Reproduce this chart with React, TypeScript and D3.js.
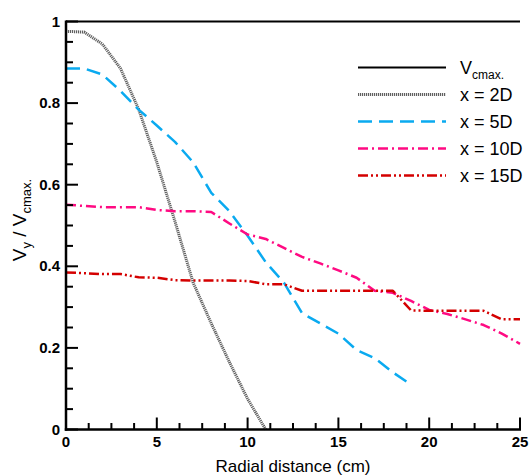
import React from 'react';
import * as d3 from 'd3';

// radial distance samples (cm)
const xs2D = [0, 1, 2, 3, 4, 5, 6, 7, 8, 9, 10, 11];
const ys2D = [0.976, 0.974, 0.945, 0.885, 0.785, 0.655, 0.51, 0.36, 0.26, 0.165, 0.075, 0];

const xs5D = [0, 1, 2, 3, 4, 5, 6, 7, 8, 9, 10, 11, 12, 13, 14, 15, 16, 17, 18, 19];
const ys5D = [0.885, 0.885, 0.87, 0.83, 0.784, 0.745, 0.705, 0.655, 0.58, 0.535, 0.475, 0.41, 0.36, 0.285, 0.26, 0.235, 0.195, 0.175, 0.14, 0.11];

const xs10D = [0, 1, 2, 3, 4, 5, 6, 7, 8, 9, 10, 11, 12, 13, 14, 15, 16, 17, 18, 19, 20, 21, 22, 23, 24, 25];
const ys10D = [0.551, 0.548, 0.545, 0.545, 0.545, 0.538, 0.535, 0.535, 0.533, 0.505, 0.478, 0.467, 0.445, 0.423, 0.407, 0.39, 0.372, 0.34, 0.335, 0.315, 0.293, 0.283, 0.27, 0.256, 0.235, 0.21];

const xs15D = [0, 1, 2, 3, 4, 5, 6, 7, 8, 9, 10, 11, 12, 13, 14, 15, 16, 17, 18, 19, 20, 21, 22, 23, 24, 25];
const ys15D = [0.385, 0.383, 0.381, 0.381, 0.373, 0.372, 0.366, 0.365, 0.365, 0.365, 0.364, 0.356, 0.356, 0.34, 0.34, 0.34, 0.34, 0.34, 0.34, 0.292, 0.291, 0.291, 0.291, 0.291, 0.27, 0.27];

const xsMax = [0, 25];
const ysMax = [1, 1];

const xTickLabels = ['0', '5', '10', '15', '20', '25'];
const yTickLabels = ['0', '0.2', '0.4', '0.6', '0.8', '1'];

const series = [
  { name: 'max', xs: xsMax, ys: ysMax, color: '#000000', width: 2, dash: null },
  { name: 'x = 2D', xs: xs2D, ys: ys2D, color: '#606060', width: 3, dash: '1.2,0.8' },
  { name: 'x = 5D', xs: xs5D, ys: ys5D, color: '#0aaaf0', width: 2.5, dash: '14,7' },
  { name: 'x = 10D', xs: xs10D, ys: ys10D, color: '#ff0a82', width: 2.5, dash: '10,4,2,4' },
  { name: 'x = 15D', xs: xs15D, ys: ys15D, color: '#d40000', width: 2.5, dash: '10,3,2,3,2,3' },
];

const FONT = '"Liberation Sans", Arial, sans-serif';

export default function App() {
  const left = 66, right = 520, top = 21.5, bottom = 429.5;
  const x = d3.scaleLinear().domain([0, 25]).range([left, right]);
  const y = d3.scaleLinear().domain([0, 1]).range([bottom, top]);

  const line = d3.line<[number, number]>().x(d => x(d[0])).y(d => y(d[1]));

  const xMinor = d3.range(0, 25.01, 1.25);
  const yMinor = d3.range(0, 1.001, 0.05);

  const legendX0 = 358, legendX1 = 446, legendY0 = 67.5, legendStep = 27;

  return (
    <svg width={532} height={475} style={{ position: 'absolute', left: 0, top: 0, background: '#fff' }} fontFamily={FONT}>
      {/* data lines */}
      {series.map(s => (
        <path
          key={s.name}
          d={line(s.xs.map((v, i) => [v, s.ys[i]]) as [number, number][]) || ''}
          fill="none"
          stroke={s.color}
          strokeWidth={s.width}
          strokeDasharray={s.dash || undefined}
          strokeLinejoin="round"
        />
      ))}

      {/* axes */}
      <line x1={left} x2={left} y1={top - 1} y2={bottom + 1.2} stroke="#000" strokeWidth={2.5} />
      <line x1={left - 1.2} x2={right + 1} y1={bottom} y2={bottom} stroke="#000" strokeWidth={2.5} />

      {xMinor.map(t => {
        const major = Math.abs(t % 5) < 1e-6;
        return (
          <line key={'xt' + t} x1={x(t)} x2={x(t)} y1={bottom} y2={bottom - (major ? 12 : 6.5)} stroke="#000" strokeWidth={2} />
        );
      })}
      {yMinor.map(t => {
        const major = Math.abs(Math.round(t * 100) % 20) < 1e-6;
        return (
          <line key={'yt' + t} x1={left} x2={left + (major ? 12 : 7)} y1={y(t)} y2={y(t)} stroke="#000" strokeWidth={2} />
        );
      })}

      {xTickLabels.map(l => (
        <text key={'xl' + l} x={x(+l)} y={bottom + 17} textAnchor="middle" fontWeight="bold" fontSize={15}>{l}</text>
      ))}
      {yTickLabels.map(l => (
        <text key={'yl' + l} x={left - 6} y={y(+l) + 5} textAnchor="end" fontWeight="bold" fontSize={15}>{l}</text>
      ))}

      {/* axis titles */}
      <text x={(left + right) / 2} y={472} textAnchor="middle" fontSize={17}>Radial distance (cm)</text>
      <text transform="translate(26,220) rotate(-90)" textAnchor="middle" fontSize={19}>
        V<tspan fontSize={13} dy={5}>y</tspan>
        <tspan dy={-5}> / V</tspan>
        <tspan fontSize={13} dy={5}>cmax.</tspan>
      </text>

      {/* legend */}
      {series.map((s, i) => (
        <g key={'lg' + s.name}>
          <line
            x1={legendX0}
            x2={legendX1}
            y1={legendY0 + i * legendStep}
            y2={legendY0 + i * legendStep}
            stroke={s.color}
            strokeWidth={s.width}
            strokeDasharray={s.dash || undefined}
          />
          {s.name === 'max' ? (
            <text x={460} y={legendY0 + 6} fontSize={18}>
              V<tspan fontSize={12} dy={5}>cmax.</tspan>
            </text>
          ) : (
            <text x={460} y={legendY0 + i * legendStep + 6.5} fontSize={18}>{s.name}</text>
          )}
        </g>
      ))}
    </svg>
  );
}
